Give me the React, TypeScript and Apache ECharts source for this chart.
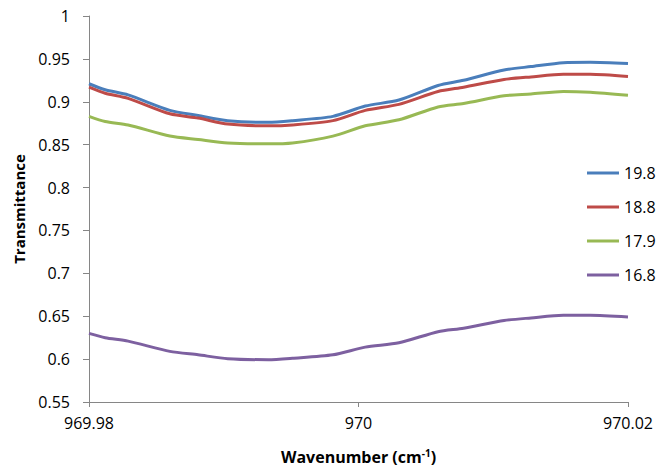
import React, { useEffect, useRef } from "react";
import * as echarts from "echarts";

// Wavenumber samples (cm^-1)
const wavenumbers = [
  969.98, 969.9812, 969.9829, 969.986, 969.9881, 969.9903, 969.9933, 969.9951, 969.9981,
  970.0005, 970.003, 970.0059, 970.0078, 970.0108, 970.0128, 970.0152, 970.0172, 970.02,
];

const seriesNames = ["19.8", "18.8", "17.9", "16.8"];

const t198 = [0.921, 0.914, 0.908, 0.89, 0.884, 0.878, 0.876, 0.878, 0.883, 0.895, 0.902, 0.919, 0.925, 0.937, 0.941, 0.9455, 0.946, 0.9445];
const t188 = [0.917, 0.91, 0.904, 0.886, 0.881, 0.874, 0.872, 0.873, 0.878, 0.89, 0.897, 0.912, 0.917, 0.926, 0.929, 0.932, 0.932, 0.9295];
const t179 = [0.883, 0.877, 0.873, 0.86, 0.856, 0.852, 0.851, 0.852, 0.86, 0.872, 0.879, 0.894, 0.898, 0.907, 0.909, 0.912, 0.911, 0.9075];
const t168 = [0.63, 0.625, 0.621, 0.609, 0.605, 0.6005, 0.5993, 0.601, 0.605, 0.614, 0.619, 0.632, 0.636, 0.645, 0.648, 0.651, 0.651, 0.649];

const colors = ["#4A7EBB", "#BE4B48", "#98B954", "#7D60A0"];

const FONT = "'Open Sans', 'Noto Sans', sans-serif";

export default function App() {
  const ref = useRef<HTMLDivElement>(null);

  useEffect(() => {
    if (!ref.current) return;
    const chart = echarts.init(ref.current, undefined, { renderer: "svg" });
    const all = [t198, t188, t179, t168];
    chart.setOption({
      animation: false,
      backgroundColor: "#ffffff",
      textStyle: { fontFamily: FONT, color: "#000" },
      grid: { left: 89, right: 39, top: 16, bottom: 62, containLabel: false },
      legend: {
        orient: "vertical",
        left: 582,
        top: 160,
        itemWidth: 32,
        itemHeight: 14,
        itemGap: 18,
        textStyle: { fontFamily: FONT, fontSize: 16, color: "#000" },
        data: seriesNames.map((n) => ({ name: n, icon: "path://M0,0 L32,0 L32,3 L0,3 Z" })),
      },
      xAxis: {
        type: "value",
        min: 969.98,
        max: 970.02,
        interval: 0.02,
        name: "Wavenumber (cm{sup|-1})",
        nameLocation: "middle",
        nameGap: 46,
        nameTextStyle: {
          fontFamily: FONT,
          fontSize: 16,
          fontWeight: "bold",
          color: "#000",
          rich: {
            sup: { fontFamily: FONT, fontSize: 10, fontWeight: "bold", verticalAlign: "top", padding: [0, 0, 8, 0], color: "#000" },
          },
        },
        axisLine: { lineStyle: { color: "#868686", width: 1 } },
        axisTick: { show: true, length: 5, lineStyle: { color: "#868686" } },
        axisLabel: {
          fontFamily: FONT,
          fontSize: 16,
          color: "#000",
          margin: 13,
          formatter: (v: number) => String(+v.toFixed(2)),
        },
        splitLine: { show: false },
      },
      yAxis: {
        type: "value",
        min: 0.55,
        max: 1,
        interval: 0.05,
        name: "Transmittance",
        nameLocation: "middle",
        nameGap: 63,
        nameTextStyle: { fontFamily: FONT, fontSize: 15, fontWeight: "bold", color: "#000" },
        axisLine: { show: true, lineStyle: { color: "#868686", width: 1 } },
        axisTick: { show: true, length: 6, lineStyle: { color: "#868686" } },
        axisLabel: {
          fontFamily: FONT,
          fontSize: 16,
          color: "#000",
          margin: 19,
          formatter: (v: number) => String(+v.toFixed(2)),
        },
        splitLine: { show: false },
      },
      series: seriesNames.map((name, i) => ({
        name,
        type: "line",
        data: wavenumbers.map((w, j) => [w, all[i][j]]),
        symbol: "none",
        smooth: 0.25,
        color: colors[i],
        lineStyle: { width: 3, color: colors[i] },
      })),
    });
    return () => chart.dispose();
  }, []);

  return <div ref={ref} style={{ width: 667, height: 470, position: "absolute", left: 0, top: 0 }} />;
}
